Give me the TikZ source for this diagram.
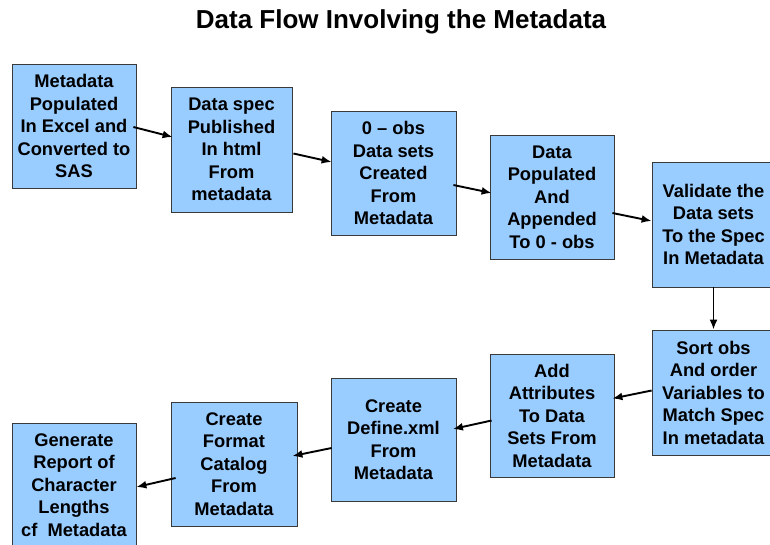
\documentclass[tikz,border=0pt]{standalone}
\usepackage{fontspec}
\setmainfont{Liberation Sans}
\usetikzlibrary{arrows.meta,calc}
\definecolor{boxblue}{HTML}{99CCFF}
\definecolor{boxline}{HTML}{3A3A3A}
\tikzset{
  flowbox/.style={draw=boxline, line width=0.8pt, fill=boxblue, align=center,
    inner sep=0pt, font=\fontsize{18.3}{22.5}\selectfont\bfseries},
  flowarrow/.style={line width=1.9pt, -{Latex[length=10pt,width=8pt]}},
}
\begin{document}
\begin{tikzpicture}[x=1pt,y=-1pt]
\useasboundingbox (0,0) rectangle (770,544);
\clip (0,0) rectangle (770,544);
\fill[white] (0,0) rectangle (770,544);
\node[anchor=base, font=\fontsize{26}{30}\selectfont\bfseries] (title) at (401,28) {Data Flow Involving the Metadata};

\node[flowbox, minimum width=124pt, minimum height=124pt] (b1) at (74,126) {Metadata\\Populated\\In Excel and\\Converted to\\SAS};
\node[flowbox, minimum width=121pt, minimum height=125pt] (b2) at (231.5,149.5) {Data spec\\Published\\In html\\From\\metadata};
\node[flowbox, minimum width=125pt, minimum height=124pt] (b3) at (393.5,173) {0 -- obs\\Data sets\\Created\\From\\Metadata};
\node[flowbox, minimum width=124pt, minimum height=124pt] (b4) at (552,197) {Data\\Populated\\And\\Appended\\To 0 - obs};
\node[flowbox, minimum width=123pt, minimum height=125pt] (b5) at (713.5,224.5) {Validate the\\Data sets\\To the Spec\\In Metadata};
\node[flowbox, minimum width=123pt, minimum height=125pt] (b6) at (713.5,392.5) {Sort obs\\And order\\Variables to\\Match Spec\\In metadata};
\node[flowbox, minimum width=124pt, minimum height=123pt] (b7) at (552,415.5) {Add\\Attributes\\To Data\\Sets From\\Metadata};
\node[flowbox, minimum width=125pt, minimum height=123pt] (b8) at (393.5,439.5) {Create\\Define.xml\\From\\Metadata};
\node[flowbox, minimum width=126pt, minimum height=124pt] (b9) at (234,464) {Create\\Format\\Catalog\\From\\Metadata};
\node[flowbox, minimum width=124pt, minimum height=124pt] (b10) at (74,485) {Generate\\Report of\\Character\\Lengths\\cf~~Metadata};

\draw[flowarrow] ($(b1.east)+(-3,1)$) -- ($(b2.west)+(2,-12.5)$);
\draw[flowarrow] ($(b2.east)+(1,4)$) -- ($(b3.west)+(1,-11)$);
\draw[flowarrow] ($(b3.east)+(-3,12)$) -- ($(b4.west)+(2,-4)$);
\draw[flowarrow] ($(b4.east)+(-2,16)$) -- ($(b5.west)+(0,-3.5)$);
\draw[flowarrow] (b5.south) -- (b6.north);
\draw[flowarrow] ($(b6.west)+(0,-2)$) -- ($(b7.east)+(-2,-17)$);
\draw[flowarrow] ($(b7.west)+(2,5)$) -- ($(b8.east)+(-3.5,-10.5)$);
\draw[flowarrow] ($(b8.west)+(1,8.5)$) -- ($(b9.east)+(-5,-8)$);
\draw[flowarrow] ($(b9.west)+(5,14)$) -- ($(b10.east)+(0,2)$);
\end{tikzpicture}
\end{document}
